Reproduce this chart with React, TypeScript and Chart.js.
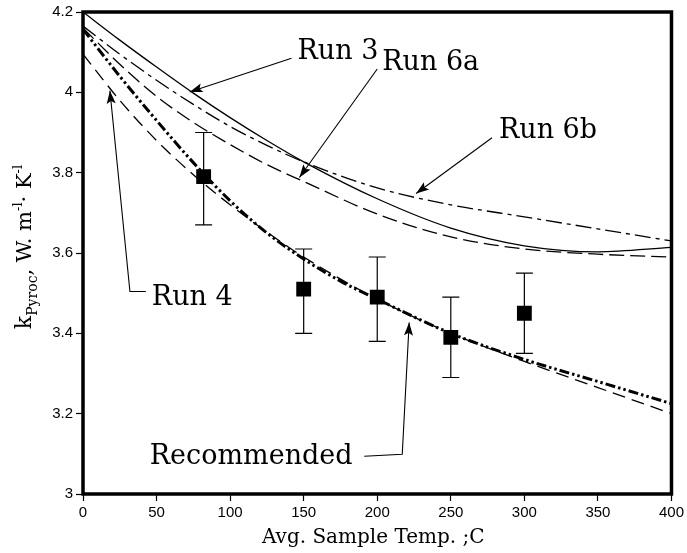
import React, { useEffect, useRef } from 'react';
import { Chart, registerables } from 'chart.js';

Chart.register(...registerables);

// ---- data ----
const run3X = [0, 25, 50, 75, 100, 125, 150, 200, 250, 300, 350, 400];
const run3Y = [4.2, 4.13, 4.063, 3.998, 3.937, 3.88, 3.827, 3.735, 3.662, 3.618, 3.603, 3.614];

const run6aX = [0, 25, 50, 75, 100, 125, 150, 200, 250, 300, 350, 400];
const run6aY = [4.16, 4.07, 3.99, 3.925, 3.87, 3.82, 3.778, 3.697, 3.64, 3.61, 3.597, 3.59];

const run6bX = [0, 25, 50, 75, 100, 125, 150, 200, 250, 300, 350, 400];
const run6bY = [4.165, 4.095, 4.03, 3.97, 3.915, 3.868, 3.827, 3.762, 3.72, 3.69, 3.66, 3.63];

const run4X = [0, 25, 50, 75, 100, 125, 150, 200, 250, 300, 350, 400];
const run4Y = [4.095, 3.98, 3.88, 3.795, 3.72, 3.652, 3.59, 3.485, 3.4, 3.33, 3.265, 3.2];

const recX = [0, 25, 50, 75, 100, 125, 150, 175, 200, 250, 300, 350, 400];
const recY = [4.157, 4.04, 3.93, 3.825, 3.73, 3.65, 3.585, 3.53, 3.485, 3.4, 3.335, 3.28, 3.225];

const markerX = [82, 150, 200, 250, 300];
const markerY = [3.79, 3.51, 3.49, 3.39, 3.45];
const errLow = [3.67, 3.4, 3.38, 3.29, 3.35];
const errHigh = [3.9, 3.61, 3.59, 3.49, 3.55];

const xTicks = [0, 50, 100, 150, 200, 250, 300, 350, 400];
const yTicks = [3, 3.2, 3.4, 3.6, 3.8, 4, 4.2];
const yTickLabels = ['3', '3.2', '3.4', '3.6', '3.8', '4', '4.2'];

// annotation labels (data units) and leader paths (last point = arrow tip)
const labelText = ['Run 3', 'Run 6a', 'Run 6b', 'Run 4', 'Recommended'];
const labelX = [145.8, 203.4, 282.7, 46.8, 45.4];
const labelY = [4.1, 4.073, 3.904, 3.489, 3.092];
const leaderPaths: number[][][] = [
  [[141.7, 4.085], [72.5, 4.001]],
  [[200, 4.058], [147.1, 3.788]],
  [[278, 3.887], [226.4, 3.748]],
  [[42.7, 3.504], [31.9, 3.504], [18.3, 4.004]],
  [[191.2, 3.094], [217, 3.099], [221.7, 3.427]],
];

const xTitle = 'Avg. Sample Temp. ;C';

const pts = (xs: number[], ys: number[]) => xs.map((x, i) => ({ x, y: ys[i] }));

const SERIF = '"DejaVu Serif", serif';
const SANS = '"Liberation Sans", Arial, sans-serif';

const overlay = {
  id: 'overlay',
  beforeDatasetsDraw(chart: any) {
    const { ctx, scales } = chart;
    const xs = scales.x;
    const ys = scales.y;
    ctx.save();
    ctx.strokeStyle = '#000';
    ctx.lineWidth = 1.2;
    markerX.forEach((mx, i) => {
      const px = xs.getPixelForValue(mx);
      const y1 = ys.getPixelForValue(errLow[i]);
      const y2 = ys.getPixelForValue(errHigh[i]);
      ctx.beginPath();
      ctx.moveTo(px, y1);
      ctx.lineTo(px, y2);
      ctx.moveTo(px - 8.5, y1);
      ctx.lineTo(px + 8.5, y1);
      ctx.moveTo(px - 8.5, y2);
      ctx.lineTo(px + 8.5, y2);
      ctx.stroke();
    });
    ctx.restore();
  },
  afterDraw(chart: any) {
    const { ctx, scales, chartArea } = chart;
    const xs = scales.x;
    const ys = scales.y;
    ctx.save();
    // frame
    ctx.strokeStyle = '#000';
    ctx.lineWidth = 3.5;
    ctx.strokeRect(chartArea.left, chartArea.top, chartArea.right - chartArea.left, chartArea.bottom - chartArea.top);

    // annotations
    ctx.fillStyle = '#000';
    ctx.font = `27px ${SERIF}`;
    ctx.textBaseline = 'middle';
    ctx.textAlign = 'left';
    labelText.forEach((t, i) => {
      ctx.fillText(t, xs.getPixelForValue(labelX[i]), ys.getPixelForValue(labelY[i]));
    });
    ctx.lineWidth = 1.1;
    leaderPaths.forEach((path) => {
      const p = path.map(([dx, dy]) => [xs.getPixelForValue(dx), ys.getPixelForValue(dy)]);
      ctx.beginPath();
      ctx.moveTo(p[0][0], p[0][1]);
      for (let k = 1; k < p.length; k++) ctx.lineTo(p[k][0], p[k][1]);
      ctx.stroke();
      const [tx, ty] = p[p.length - 1];
      const [sx, sy] = p[p.length - 2];
      const ang = Math.atan2(ty - sy, tx - sx);
      const L = 13;
      const W = 4.5;
      ctx.beginPath();
      ctx.moveTo(tx, ty);
      ctx.lineTo(tx - L * Math.cos(ang) + W * Math.sin(ang), ty - L * Math.sin(ang) - W * Math.cos(ang));
      ctx.lineTo(tx - L * 0.8 * Math.cos(ang), ty - L * 0.8 * Math.sin(ang));
      ctx.lineTo(tx - L * Math.cos(ang) - W * Math.sin(ang), ty - L * Math.sin(ang) + W * Math.cos(ang));
      ctx.closePath();
      ctx.fill();
    });

    // x title
    ctx.font = `20px ${SERIF}`;
    ctx.textAlign = 'center';
    ctx.textBaseline = 'middle';
    ctx.fillText(xTitle, (chartArea.left + chartArea.right) / 2 - 4, chartArea.bottom + 44);

    // y title (rotated, with sub/superscripts)
    const parts = [
      { t: 'k', s: 22, dy: 0 },
      { t: 'Pyroc', s: 14, dy: 6 },
      { t: ', W. m', s: 21, dy: 0 },
      { t: '-l', s: 13, dy: -9 },
      { t: '\u00B7 K', s: 21, dy: 0 },
      { t: '-l', s: 13, dy: -9 },
    ];
    let total = 0;
    parts.forEach((p) => {
      ctx.font = `${p.s}px ${SERIF}`;
      total += ctx.measureText(p.t).width;
    });
    ctx.translate(24, (chartArea.top + chartArea.bottom) / 2 - 6);
    ctx.rotate(-Math.PI / 2);
    ctx.textAlign = 'left';
    ctx.textBaseline = 'alphabetic';
    let cx = -total / 2;
    parts.forEach((p) => {
      ctx.font = `${p.s}px ${SERIF}`;
      ctx.fillText(p.t, cx, 7 + p.dy);
      cx += ctx.measureText(p.t).width;
    });
    ctx.restore();
  },
};

export default function App() {
  const ref = useRef<HTMLCanvasElement | null>(null);
  useEffect(() => {
    document.body.style.margin = '0';
    const canvas = ref.current!;
    const lineBase = { type: 'line' as const, pointRadius: 0, borderColor: '#000', fill: false, cubicInterpolationMode: 'monotone' as const };
    const chart = new Chart(canvas, {
      type: 'line',
      data: {
        datasets: [
          { ...lineBase, label: 'Run 3', data: pts(run3X, run3Y), borderWidth: 1.3 },
          { ...lineBase, label: 'Run 6a', data: pts(run6aX, run6aY), borderWidth: 1.3, borderDash: [15, 6] },
          { ...lineBase, label: 'Run 6b', data: pts(run6bX, run6bY), borderWidth: 1.3, borderDash: [16, 5, 4, 5] },
          { ...lineBase, label: 'Run 4', data: pts(run4X, run4Y), borderWidth: 1.3, borderDash: [13, 7] },
          { ...lineBase, label: 'Recommended', data: pts(recX, recY), borderWidth: 3, borderDash: [10, 3, 2.5, 3, 2.5, 3] },
          {
            type: 'scatter' as const,
            label: 'Data',
            data: pts(markerX, markerY),
            pointStyle: 'rect',
            pointRadius: 10.5,
            backgroundColor: '#000',
            borderColor: '#000',
            borderWidth: 0,
            showLine: false,
          } as any,
        ],
      },
      options: {
        animation: false,
        responsive: false,
        events: [],
        layout: { padding: { left: 0, top: 11, right: 14, bottom: 0 } },
        plugins: { legend: { display: false }, tooltip: { enabled: false } },
        scales: {
          x: {
            type: 'linear',
            min: 0,
            max: 400,
            afterFit: (s: any) => { s.height = 59; },
            afterBuildTicks: (s: any) => { s.ticks = xTicks.map((v) => ({ value: v })); },
            ticks: { color: '#000', font: { family: SANS, size: 15 }, padding: 3, maxRotation: 0 },
            grid: { display: true, drawOnChartArea: false, drawTicks: true, tickLength: 7, tickColor: '#000', tickWidth: 1.2 },
            border: { display: false },
          },
          y: {
            type: 'linear',
            min: 3,
            max: 4.2,
            afterFit: (s: any) => { s.width = 83; },
            afterBuildTicks: (s: any) => { s.ticks = yTicks.map((v) => ({ value: v })); },
            ticks: {
              color: '#000',
              font: { family: SANS, size: 15 },
              padding: 3,
              callback: (v: any) => {
                const i = yTicks.findIndex((t) => Math.abs(t - Number(v)) < 1e-6);
                return i >= 0 ? yTickLabels[i] : '';
              },
            },
            grid: { display: true, drawOnChartArea: false, drawTicks: true, tickLength: 7, tickColor: '#000', tickWidth: 1.2 },
            border: { display: false },
          },
        },
      },
      plugins: [overlay],
    });
    return () => chart.destroy();
  }, []);
  return (
    <div style={{ width: 687, height: 553 }}>
      <canvas ref={ref} width={687} height={553} style={{ display: 'block', width: 687, height: 553 }} />
    </div>
  );
}
